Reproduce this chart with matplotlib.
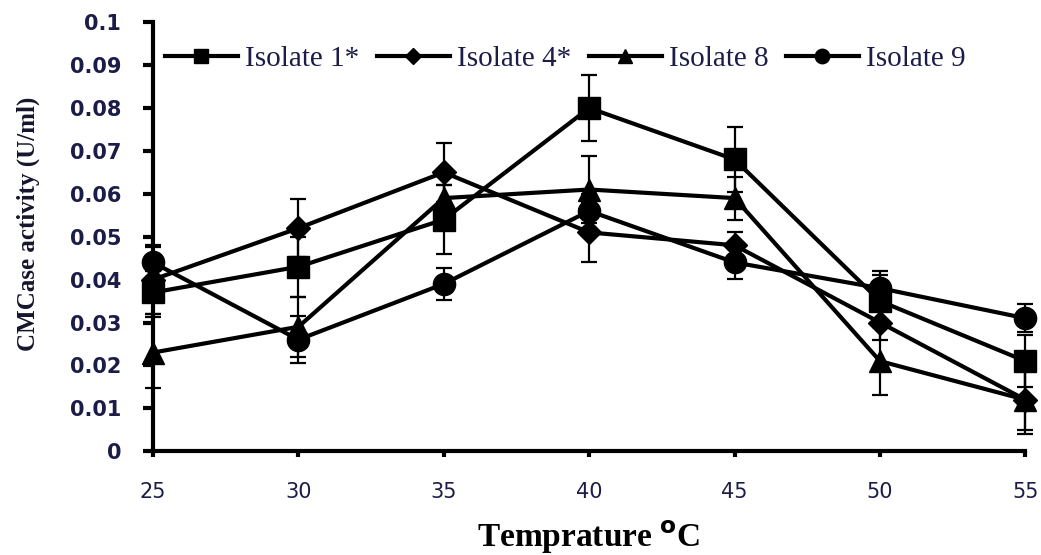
import numpy as np
import matplotlib.pyplot as plt

temps = [25, 30, 35, 40, 45, 50, 55]

iso1 = [0.037, 0.043, 0.054, 0.080, 0.068, 0.035, 0.021]
iso1_err = [0.005, 0.007, 0.008, 0.0077, 0.0075, 0.006, 0.006]
iso4 = [0.040, 0.052, 0.065, 0.051, 0.048, 0.030, 0.012]
iso4_err = [0.008, 0.0068, 0.0068, 0.0068, 0.003, 0.004, 0.007]
iso8 = [0.023, 0.029, 0.059, 0.061, 0.059, 0.021, 0.012]
iso8_err = [0.0082, 0.007, 0.003, 0.0077, 0.005, 0.008, 0.008]
iso9 = [0.044, 0.026, 0.039, 0.056, 0.044, 0.038, 0.031]
iso9_err = [0.0035, 0.0055, 0.0037, 0.004, 0.0038, 0.004, 0.0033]

labels = ['Isolate 1*', 'Isolate 4*', 'Isolate 8', 'Isolate 9']
markers = ['s', 'D', '^', 'o']
sizes = [16, 12, 16, 16]
navy = '#1c1c48'

fig = plt.figure(figsize=(10.41, 5.55), dpi=100)
ax = fig.add_axes([0.147, 0.187, 0.838, 0.773])

series = [(iso1, iso1_err), (iso4, iso4_err), (iso8, iso8_err), (iso9, iso9_err)]
handles = []
for (vals, errs), lab, m, s in zip(series, labels, markers, sizes):
    c = ax.errorbar(temps, vals, yerr=errs, color='black', lw=3, marker=m, ms=s,
                    elinewidth=1.6, capsize=6, capthick=1.6, label=lab,
                    clip_on=False)
    handles.append(c[0])

ax.set_xlim(25, 55)
ax.set_ylim(0, 0.1)
ax.set_xticks(temps)
ax.set_yticks(np.arange(0, 0.101, 0.01))
ax.set_yticklabels(['0', '0.01', '0.02', '0.03', '0.04', '0.05', '0.06',
                    '0.07', '0.08', '0.09', '0.1'])
ax.tick_params(axis='both', labelsize=15, labelcolor=navy, width=3,
               direction='out')
ax.tick_params(axis='y', length=7, pad=16)
ax.tick_params(axis='x', length=4, pad=18)
for t in ax.get_yticklabels():
    t.set_fontweight('semibold')
ax.spines['top'].set_visible(False)
ax.spines['right'].set_visible(False)
ax.spines['left'].set_linewidth(3)
ax.spines['bottom'].set_linewidth(3)

ax.set_xlabel('Temprature $^{\\mathbf{o}}$C', family='Liberation Serif',
              fontsize=24, fontweight='bold', labelpad=12)
ax.set_ylabel('CMCase activity (U/ml)', family='Liberation Serif',
              fontsize=18, fontweight='bold', color='#15152e', labelpad=12)
ax.yaxis.set_label_coords(-0.13, 0.53)

leg = ax.legend(handles=handles, labels=labels, loc='center left',
                bbox_to_anchor=(0.0, 0.915), ncol=4, frameon=False,
                handlelength=2.5, columnspacing=0.6, handletextpad=0.25,
                borderaxespad=0, markerscale=0.65,
                prop={'family': 'Liberation Serif', 'size': 21})
for t in leg.get_texts():
    t.set_color(navy)

fig.savefig('out.png', dpi=100)
